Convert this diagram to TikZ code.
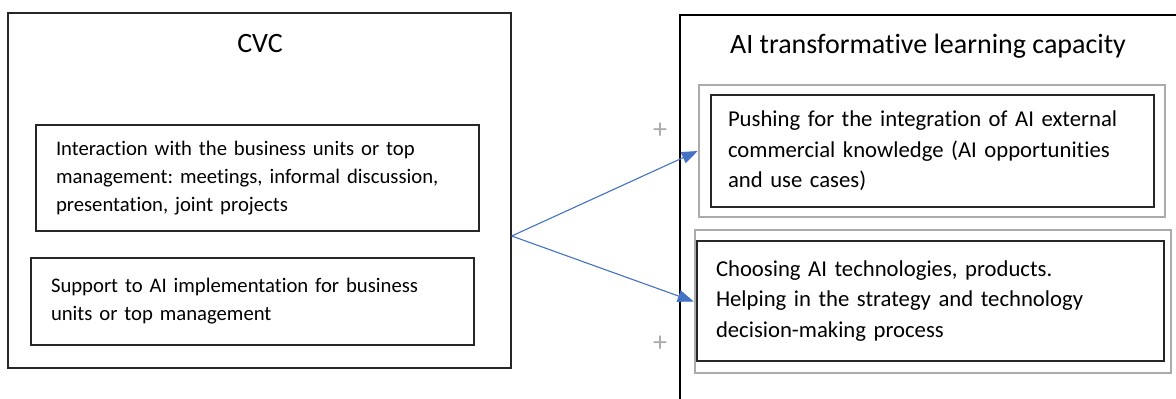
\documentclass[tikz,border=0pt]{standalone}
\usepackage{fontspec}
\setmainfont{Carlito}[Ligatures=NoCommon]
\frenchspacing
\usetikzlibrary{arrows.meta}
\definecolor{linkblue}{HTML}{4472C4}
\definecolor{framegray}{HTML}{ABABAB}
\definecolor{inkline}{HTML}{262626}
\tikzset{
  frame/.style={draw=inkline, line width=1.4pt, inner sep=0pt},
  grayframe/.style={draw=framegray, line width=2.6pt, inner sep=0pt},
  textbox/.style={draw=inkline, line width=1.3pt, align=left, inner ysep=0pt,
    font=\fontsize{20.7}{28}\selectfont},
  rtextbox/.style={textbox, font=\fontsize{22.7}{30.5}\selectfont},
  heading/.style={anchor=base, inner sep=0pt, font=\fontsize{28}{32}\selectfont},
  sign/.style={text=framegray, inner sep=0pt, font=\fontsize{28}{30}\selectfont},
  link/.style={draw=linkblue, line width=1.1pt,
    -{Triangle[length=16pt,width=12pt]}, shorten >=0pt}
}
\begin{document}
\begin{tikzpicture}[x=1pt,y=-1pt]
\clip (0,0) rectangle (1176,399);
\fill[white] (0,0) rectangle (1176,399);

% CVC side
\node[frame, minimum width=503pt, minimum height=355pt] (cvc) at (259.5,190.5) {};
\node[heading] (cvctitle) at (260,52) {CVC};
\node[textbox, text width=403pt, inner xsep=20pt, minimum width=443pt,
  minimum height=106pt] (interact) at (257.5,178)
  {Interaction with the business units or top\\
   management: meetings, informal discussion,\\
   presentation, joint projects};
\node[textbox, text width=403pt, inner xsep=20pt, minimum width=443pt,
  minimum height=87pt] (support) at (252.5,301.5)
  {Support to AI implementation for business\\
   units or top management};

% learning capacity side (runs off the right and bottom edges)
\node[frame, line width=1.6pt, draw=black, minimum width=520pt,
  minimum height=405pt] (capacity) at (940,217.5) {};
\node[heading] (captitle) at (928,53) {AI transformative learning capacity};

\node[grayframe, minimum width=466pt, minimum height=132pt] (upgray) at (932,151) {};
\node[rtextbox, text width=409pt, inner xsep=17pt, minimum width=443pt,
  minimum height=112pt] (pushing) at (932.5,151)
  {Pushing for the integration of AI external\\
   commercial knowledge (AI opportunities\\
   and use cases)};

\node[grayframe, minimum width=476pt, minimum height=143pt] (lowgray) at (933,301.5) {};
\node[rtextbox, text width=429pt, inner xsep=19pt, minimum width=467pt,
  minimum height=120pt] (choosing) at (930.5,301)
  {Choosing AI technologies, products.\\
   Helping in the strategy and technology\\
   decision-making process};

% polarity signs
\node[sign] (plusup) at (660,131) {+};
\node[sign] (pluslow) at (660,344) {+};

% links
\coordinate (fork) at (cvc.east |- 0,236);
\draw[link] (fork) -- (upgray.west);
\draw[link] (fork) -- (lowgray.west);
\end{tikzpicture}
\end{document}
